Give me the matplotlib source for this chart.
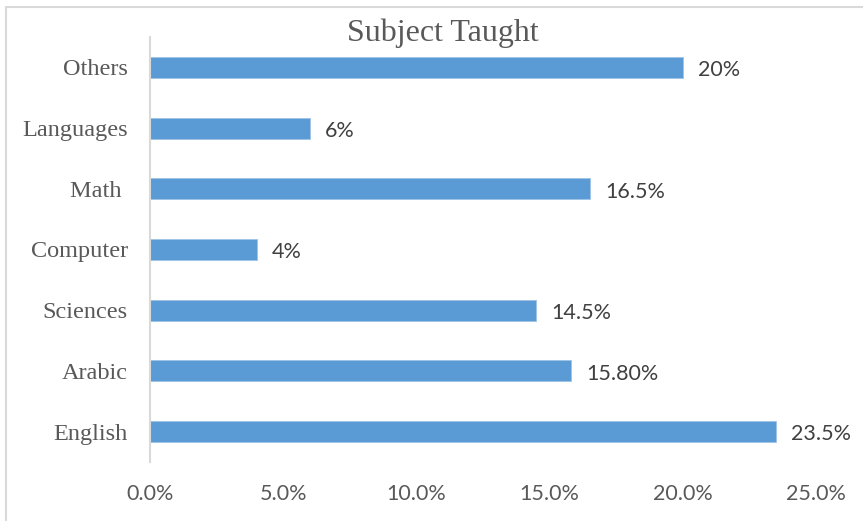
import matplotlib.pyplot as plt
from matplotlib.patches import Rectangle
from matplotlib.ticker import FuncFormatter

# data (bottom to top)
subjects = ['English', 'Arabic', 'Sciences', 'Computer', 'Math ', 'Languages', 'Others']
values = [23.5, 15.8, 14.5, 4, 16.5, 6, 20]
labels = ['23.5%', '15.80%', '14.5%', '4%', '16.5%', '6%', '20%']

bar_color = '#5B9BD5'
text_color = '#595959'

fig = plt.figure(figsize=(8.63, 5.21), dpi=100)
ax = fig.add_axes([150/863, 1-462/521, 666/863, 425/521])

ax.barh(range(len(subjects)), values, height=0.345, color=bar_color,
        edgecolor='#9DC3E6', linewidth=0.6)

for i, (v, lab) in enumerate(zip(values, labels)):
    ax.annotate(lab, (v, i), xytext=(11, -2), textcoords='offset points',
                va='center', ha='left', fontsize=15.5, color='#404040',
                family='Lato')

ax.set_xlim(0, 25)
ax.set_ylim(-0.5, len(subjects) - 0.5)
ax.set_xticks([0, 5, 10, 15, 20, 25])
ax.xaxis.set_major_formatter(FuncFormatter(lambda x, p: '%.1f%%' % x))
ax.set_yticks(range(len(subjects)))
ax.set_yticklabels(subjects, family='Liberation Serif', fontsize=17.5, color=text_color)
for t in ax.get_xticklabels():
    t.set_family('Lato')
    t.set_fontsize(15.5)
    t.set_color(text_color)
ax.tick_params(axis='both', length=0)
ax.tick_params(axis='x', pad=16)
ax.tick_params(axis='y', pad=16)

for s in ['top', 'right', 'bottom']:
    ax.spines[s].set_visible(False)
ax.spines['left'].set_color('#D9D9D9')
ax.spines['left'].set_linewidth(1.5)

fig.text(443/863, 1-33/521, 'Subject Taught', ha='center', va='center',
         family='Liberation Serif', fontsize=23, color=text_color)

# chart border (only top and left visible in crop)
fig.patches.append(Rectangle((6/863, -0.1), 1.0, 1 - 7/521 + 0.1,
                             transform=fig.transFigure, fill=False,
                             edgecolor='#D9D9D9', linewidth=1.5))

fig.savefig('out.png', dpi=100)
